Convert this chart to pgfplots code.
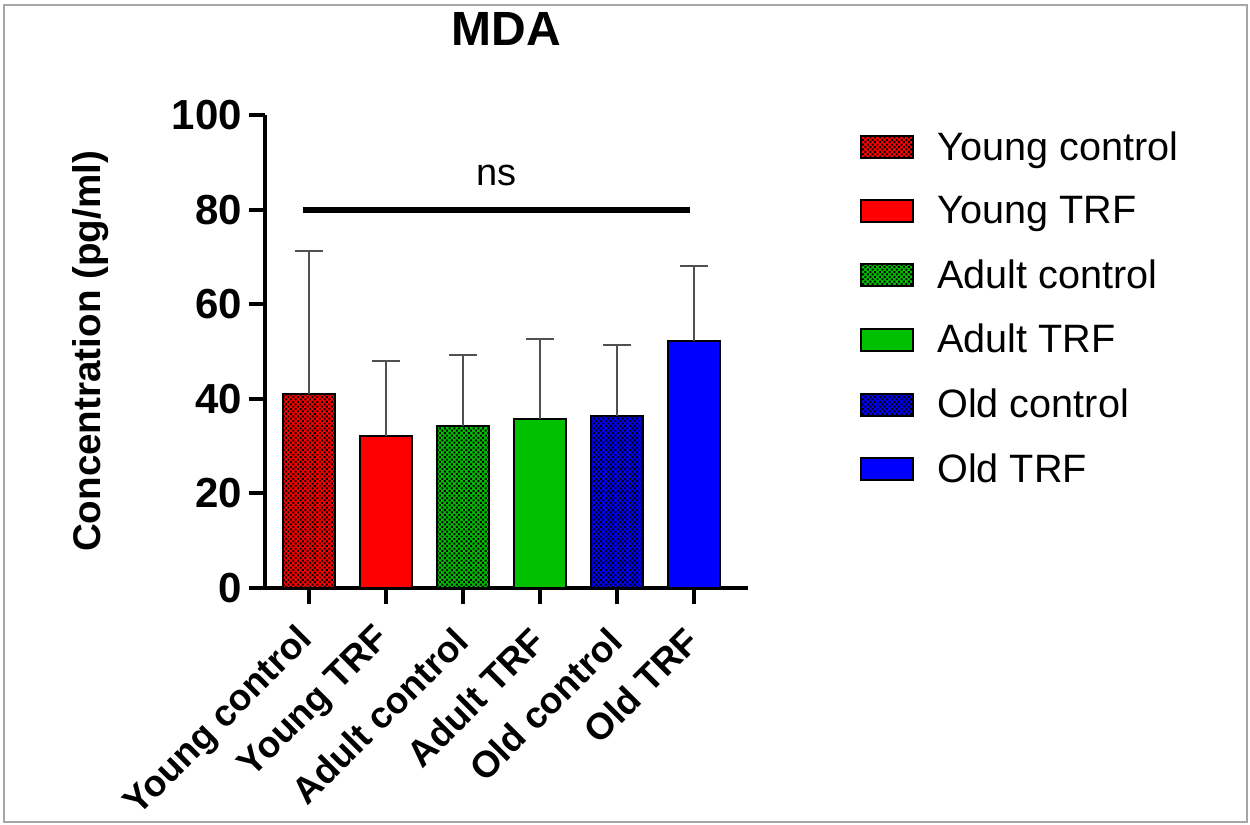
\documentclass[border=0pt]{standalone}
\usepackage{pgfplots}
\pgfplotsset{compat=1.18}
\usepackage{fontspec}
\setmainfont{Liberation Sans}
\usetikzlibrary{patterns.meta}
\definecolor{myred}{RGB}{255,0,0}
\definecolor{mygreen}{RGB}{0,192,0}
\definecolor{myblue}{RGB}{0,0,255}
\definecolor{errgray}{RGB}{80,80,80}
\begin{document}
\begin{tikzpicture}
\useasboundingbox (0,0) rectangle (625pt,412.5pt);
\fill[white] (0,0) rectangle (625pt,412.5pt);
\draw[gray!70, line width=1pt] (2pt,1.5pt) rectangle (623.5pt,410pt);
\begin{axis}[
  at={(132.5pt,118.5pt)}, anchor=south west,
  scale only axis, width=241.5pt, height=236.5pt,
  xmin=-0.57, xmax=5.70, ymin=0, ymax=100,
  axis x line*=bottom, axis y line*=left,
  axis line style={line width=2pt},
  xtick={0,...,5},
  xticklabels={Young control, Young TRF, Adult control, Adult TRF, Old control, Old TRF},
  ytick={0,20,...,100},
  minor tick num=0,
  tick align=outside, major tick length=8pt,
  tick style={line width=2pt, black},
  /pgf/number format/assume math mode=true,
  yticklabel style={font=\bfseries\fontsize{21}{24}\selectfont},
  xticklabel style={yshift=-14.5pt, rotate=45, anchor=east, font=\bfseries\fontsize{18.5}{22}\selectfont, inner sep=1pt},
  title={MDA},
  title style={at={(axis description cs:0.5,1)}, anchor=base, yshift=28.5pt, font=\bfseries\fontsize{24}{28}\selectfont},
  ylabel={Concentration (pg/ml)},
  every axis y label/.style={at={(axis description cs:-0.3416,0.5)}, rotate=90, anchor=base, font=\bfseries\fontsize{19.3}{23}\selectfont},
  legend cell align=left,
  legend image code/.code={\draw[#1] (0pt,-5.5pt) rectangle (26pt,5.5pt);},
  legend style={draw=none, fill=none, at={(axis description cs:1,1)}, anchor=north west,
    xshift=53pt, yshift=-4pt, font=\fontsize{19.8}{23}\selectfont, row sep=12.5pt,
    /tikz/every odd column/.append style={column sep=9.5pt}},
  mybar/.style={ybar, bar width=26pt, bar shift=0pt, draw=black, line width=1pt,
    error bars/y dir=plus, error bars/y explicit,
    error bars/error bar style={line width=1pt, color=errgray},
    error bars/error mark options={rotate=90, mark size=7pt, line width=1pt, color=errgray}},
  dotted fill/.style={postaction={pattern={Dots[angle=45,distance=1.7pt,radius=0.7pt]}, pattern color=black}},
]
\addplot[mybar, fill=myred, dotted fill] coordinates {(0,41.0) +- (0,30.2)};
\addlegendentry{Young control}
\addplot[mybar, fill=myred] coordinates {(1,32.1) +- (0,15.8)};
\addlegendentry{Young TRF}
\addplot[mybar, fill=mygreen, dotted fill] coordinates {(2,34.3) +- (0,15.0)};
\addlegendentry{Adult control}
\addplot[mybar, fill=mygreen] coordinates {(3,35.7) +- (0,17.0)};
\addlegendentry{Adult TRF}
\addplot[mybar, fill=myblue, dotted fill] coordinates {(4,36.3) +- (0,15.1)};
\addlegendentry{Old control}
\addplot[mybar, fill=myblue] coordinates {(5,52.2) +- (0,15.9)};
\addlegendentry{Old TRF}
\addplot[black, line width=3pt, forget plot] coordinates {(-0.078,80) (4.948,80)};
\node[anchor=base, font=\fontsize{19}{22}\selectfont] at (axis cs:2.435,85) {ns};
\end{axis}
\end{tikzpicture}
\end{document}
